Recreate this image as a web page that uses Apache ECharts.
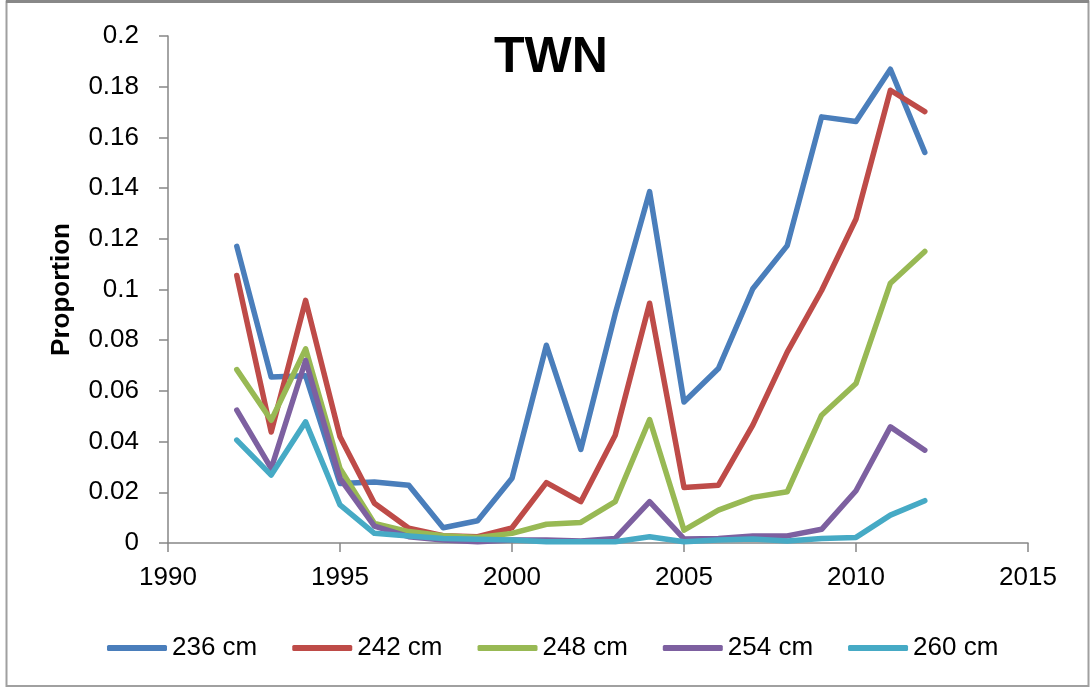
<!DOCTYPE html>
<html>
<head>
<meta charset="utf-8">
<script src="https://cdn.jsdelivr.net/npm/echarts@6/dist/echarts.min.js"></script>
<style>html,body{margin:0;padding:0;background:#fff}#c{width:1091px;height:688px}</style>
</head>
<body>
<div id="c"></div>
<script>
const years = [1992,1993,1994,1995,1996,1997,1998,1999,2000,2001,2002,2003,2004,2005,2006,2007,2008,2009,2010,2011,2012];
const seriesNames = ['236 cm','242 cm','248 cm','254 cm','260 cm'];
const s236 = [0.117,0.0655,0.066,0.0235,0.0241,0.0228,0.006,0.0088,0.0255,0.078,0.0369,0.0904,0.1386,0.0556,0.0688,0.1003,0.1173,0.1681,0.1663,0.1869,0.1541];
const s242 = [0.1055,0.0438,0.0957,0.0419,0.0157,0.0058,0.0029,0.0025,0.006,0.0238,0.0163,0.0425,0.0946,0.0219,0.0228,0.0465,0.0753,0.0996,0.1278,0.1786,0.1702];
const s248 = [0.0684,0.0484,0.0766,0.0294,0.0077,0.0045,0.0029,0.0022,0.0038,0.0074,0.0081,0.0163,0.0487,0.0051,0.013,0.018,0.0202,0.0504,0.0629,0.1025,0.115];
const s254 = [0.0524,0.0294,0.072,0.0255,0.0067,0.0025,0.0012,0.0005,0.0012,0.0012,0.0008,0.0018,0.0163,0.0016,0.0018,0.0028,0.0028,0.0054,0.0206,0.0458,0.0366];
const s260 = [0.0406,0.0268,0.0478,0.015,0.0038,0.0028,0.0018,0.0015,0.0012,0.0005,0.0005,0.0005,0.0025,0.0005,0.0012,0.0016,0.0008,0.0018,0.0022,0.011,0.0167];
const colors = ['#4A7EBB','#BE4B48','#98B954','#7D60A0','#46AAC5'];
const allValues = [s236,s242,s248,s254,s260];

const chart = echarts.init(document.getElementById('c'), null, {renderer:'canvas'});
const font = 'Liberation Sans';
chart.setOption({
  animation: false,
  backgroundColor: '#fff',
  textStyle: {fontFamily: font},
  title: {
    text: 'TWN', left: 489, top: 28,
    textStyle: {fontFamily: font, fontSize: 50, fontWeight: 'bold', color: '#000'}
  },
  grid: {left: 168, right: 63, top: 36, bottom: 145},
  legend: {
    left: 102, top: 630,
    itemWidth: 60, itemHeight: 6, itemGap: 35,
    icon: 'roundRect',
    textStyle: {fontFamily: font, fontSize: 26, color: '#000'},
    data: seriesNames
  },
  xAxis: {
    type: 'value', min: 1990, max: 2015, interval: 5,
    axisLine: {show: true, lineStyle: {color: '#868686', width: 1.5}},
    axisTick: {show: true, inside: false, length: 9, lineStyle: {color: '#868686', width: 1.5}},
    splitLine: {show: false},
    axisLabel: {fontFamily: font, fontSize: 26, color: '#000', margin: 22,
      formatter: v => String(v)}
  },
  yAxis: {
    type: 'value', min: 0, max: 0.2, interval: 0.02,
    name: 'Proportion', nameLocation: 'middle', nameGap: 93,
    nameTextStyle: {fontFamily: font, fontSize: 26, fontWeight: 'bold', color: '#000'},
    axisLine: {show: true, lineStyle: {color: '#868686', width: 1.5}},
    axisTick: {show: true, inside: false, length: 9, lineStyle: {color: '#868686', width: 1.5}},
    splitLine: {show: false},
    axisLabel: {fontFamily: font, fontSize: 26, color: '#000', margin: 29,
      formatter: v => String(Math.round(v*100)/100)}
  },
  series: seriesNames.map((n,i) => ({
    name: n, type: 'line', showSymbol: false, symbol: 'none',
    data: years.map((y,j) => [y, allValues[i][j]]),
    itemStyle: {color: colors[i]},
    lineStyle: {color: colors[i], width: 5.5, cap: 'round', join: 'round'}
  })),
  graphic: [
    {type: 'rect', shape: {x: 6.5, y: 1.5, width: 1082, height: 684.5},
     style: {fill: 'none', stroke: '#a0a0a0', lineWidth: 2}, silent: true},
    {type: 'line', shape: {x1: 6, y1: 1.5, x2: 1089, y2: 1.5},
     style: {stroke: '#888', lineWidth: 3}, silent: true}
  ]
});
</script>
</body>
</html>
